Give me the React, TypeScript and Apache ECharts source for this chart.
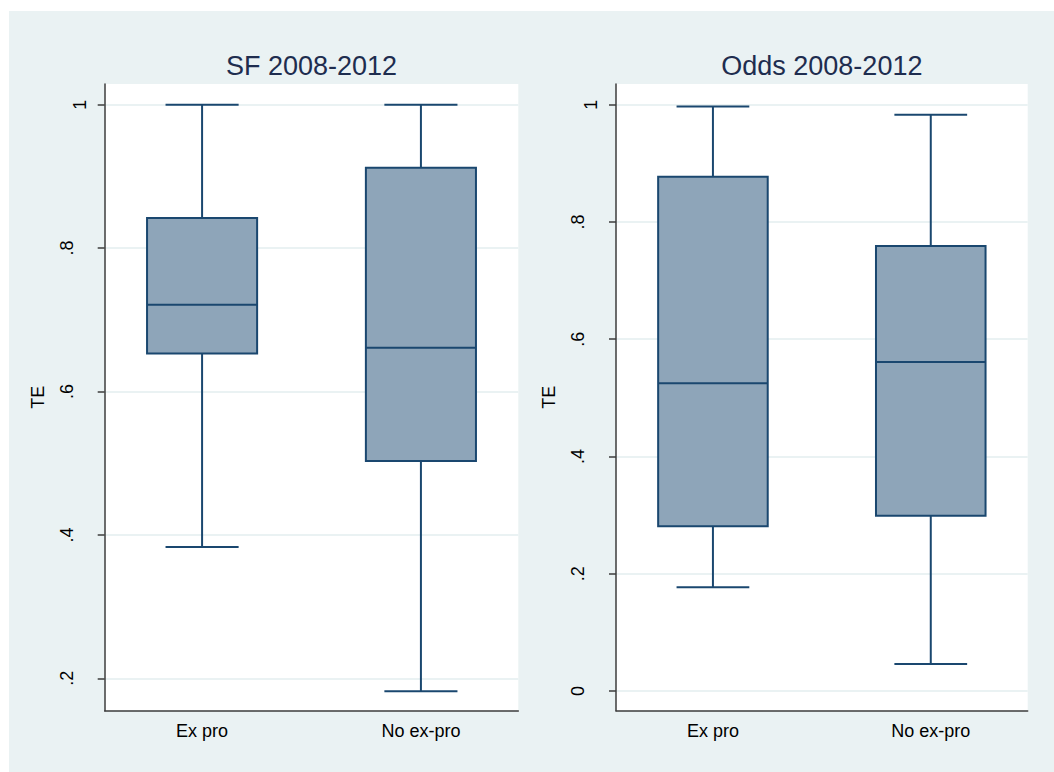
import React, { useEffect, useRef } from "react";
import * as echarts from "echarts";

// ---------- data ----------
const categories = ["Ex pro", "No ex-pro"];
const panelTitles = ["SF 2008-2012", "Odds 2008-2012"];
// [min, Q1, median, Q3, max]
const sfExPro = [0.383, 0.653, 0.721, 0.842, 1.0];
const sfNoExPro = [0.182, 0.503, 0.661, 0.912, 1.0];
const oddsExPro = [0.177, 0.281, 0.525, 0.877, 0.997];
const oddsNoExPro = [0.046, 0.299, 0.561, 0.759, 0.983];
const sfTicks = [0.2, 0.4, 0.6, 0.8, 1];
const oddsTicks = [0, 0.2, 0.4, 0.6, 0.8, 1];
const sfRange = [0.1548, 1.0289];
const oddsRange = [-0.0336, 1.0353];
const yTitle = "TE";

const FONT = 'Arial, "Liberation Sans", Helvetica, sans-serif';
const NAVY = "#1a476f";
const FILL = "#8ea5b9";
const BG = "#eaf2f3";

const fmtY = (v: number) => {
  const r = Math.round(v * 10) / 10;
  if (r === 1) return "{b|1}";
  if (r === 0) return "{a|0}";
  return "{a|" + String(r).replace(/^0\./, ".") + "}";
};

function boxRender(params: any, api: any) {
  const x = api.value(0);
  const mn = api.value(1), q1 = api.value(2), md = api.value(3), q3 = api.value(4), mx = api.value(5);
  const boxHalf = api.size([0.2515, 0])[0];
  const capHalf = api.size([0.167, 0])[0];
  const pMin = api.coord([x, mn]);
  const pQ1 = api.coord([x, q1]);
  const pMd = api.coord([x, md]);
  const pQ3 = api.coord([x, q3]);
  const pMax = api.coord([x, mx]);
  const cx = pMin[0];
  const line = { stroke: NAVY, lineWidth: 2, fill: null };
  return {
    type: "group",
    children: [
      { type: "line", shape: { x1: cx, y1: pMax[1], x2: cx, y2: pQ3[1] }, style: line },
      { type: "line", shape: { x1: cx - capHalf, y1: pMax[1], x2: cx + capHalf, y2: pMax[1] }, style: line },
      { type: "line", shape: { x1: cx, y1: pQ1[1], x2: cx, y2: pMin[1] }, style: line },
      { type: "line", shape: { x1: cx - capHalf, y1: pMin[1], x2: cx + capHalf, y2: pMin[1] }, style: line },
      {
        type: "rect",
        shape: { x: cx - boxHalf, y: pQ3[1], width: boxHalf * 2, height: pQ1[1] - pQ3[1] },
        style: { fill: FILL, stroke: NAVY, lineWidth: 2 },
      },
      { type: "line", shape: { x1: cx - boxHalf, y1: pMd[1], x2: cx + boxHalf, y2: pMd[1] }, style: line },
    ],
  };
}

export default function App() {
  const ref = useRef<HTMLDivElement>(null);
  useEffect(() => {
    if (!ref.current) return;
    const chart = echarts.init(ref.current, null, { renderer: "svg" });
    const grids = [
      { left: 95.7, top: 73, width: 413.6, height: 626.7 },
      { left: 607, top: 73, width: 411.7, height: 626.7 },
    ];
    const ranges = [sfRange, oddsRange];
    const ticks = [sfTicks, oddsTicks];
    const data = [
      [sfExPro, sfNoExPro],
      [oddsExPro, oddsNoExPro],
    ];
    chart.setOption({
      animation: false,
      backgroundColor: BG,
      title: grids.map((g, i) => ({
        text: panelTitles[i],
        left: g.left + g.width / 2,
        top: 41,
        padding: 0,
        textAlign: "center",
        textStyle: { fontFamily: FONT, fontSize: 27, fontWeight: "normal", color: "#1e2d4f" },
      })),
      grid: grids.map((g) => ({
        ...g,
        show: true,
        backgroundColor: "#ffffff",
        borderWidth: 0,
        containLabel: false,
      })),
      xAxis: grids.map((_, i) => ({
        type: "value",
        gridIndex: i,
        min: -0.445,
        max: 1.445,
        axisLine: { show: true, onZero: false, lineStyle: { color: "#3c3c3c", width: 1.5 } },
        axisTick: { show: false, customValues: [0, 1] },
        splitLine: { show: false },
        axisLabel: {
          customValues: [0, 1],
          formatter: (v: number) => categories[Math.round(v)] ?? "",
          fontFamily: FONT,
          fontSize: 18,
          color: "#000",
          margin: 11,
        },
      })),
      yAxis: grids.map((_, i) => ({
        type: "value",
        gridIndex: i,
        min: ranges[i][0],
        max: ranges[i][1],
        name: yTitle,
        nameLocation: "middle",
        nameGap: 58,
        nameTextStyle: { fontFamily: FONT, fontSize: 18, color: "#000" },
        axisLine: { show: true, onZero: false, lineStyle: { color: "#3c3c3c", width: 1.5 } },
        axisTick: { show: true, length: 7, customValues: ticks[i], lineStyle: { color: "#3c3c3c", width: 1.5 } },
        splitLine: { show: true, lineStyle: { color: BG, width: 2 } },
        axisLabel: {
          customValues: ticks[i],
          rotate: 90,
          margin: 16,
          formatter: fmtY,
          rich: {
            a: { fontFamily: FONT, fontSize: 18, color: "#000", padding: [0, 0, 13, 0] },
            b: { fontFamily: FONT, fontSize: 18, color: "#000", padding: [0, 0, 0, 0] },
          },
        },
      })),
      series: data.map((d, i) => ({
        type: "custom",
        xAxisIndex: i,
        yAxisIndex: i,
        renderItem: boxRender,
        encode: { x: 0, y: [1, 2, 3, 4, 5] },
        data: d.map((v, k) => [k, ...v]),
      })),
    });
    return () => chart.dispose();
  }, []);
  return (
    <div
      ref={ref}
      style={{ position: "absolute", left: 9, top: 11, width: 1045, height: 761 }}
    />
  );
}
